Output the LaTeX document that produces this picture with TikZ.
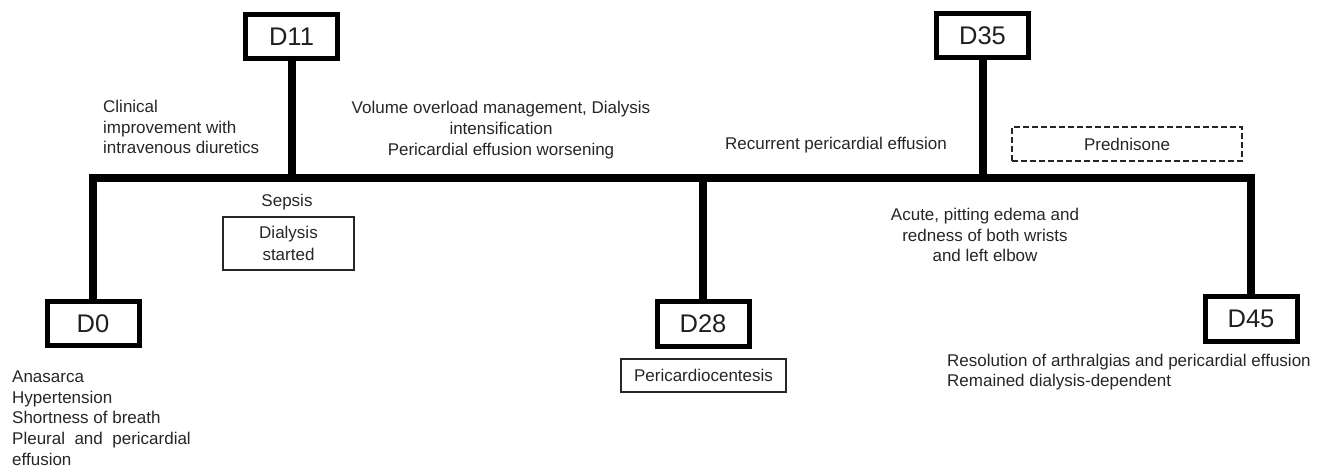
\documentclass[tikz,border=0pt]{standalone}
\usepackage{fontspec}
\setmainfont{Liberation Sans}
\begin{document}
\begin{tikzpicture}[x=1pt,y=-1pt,
  daybox/.style={draw=black,line width=5pt,minimum width=92pt,minimum height=44pt,inner sep=0pt,font=\fontsize{25.5}{28}\selectfont,text=black!88},
  thinbox/.style={draw=black!85,line width=1.3pt,inner sep=0pt,font=\fontsize{17}{21.5}\selectfont,text=black!85,align=center},
  txt/.style={inner sep=0pt,font=\fontsize{17}{20.7}\selectfont,text=black!85},
  tl/.style={line width=8.5pt,line join=miter,black}]
\useasboundingbox (0,0) rectangle (1325,470);
% day boxes
\node[daybox] (D0) at (93,323.5) {D0};
\node[daybox] (D11) at (291.5,37) {D11};
\node[daybox] (D28) at (703,324) {D28};
\node[daybox] (D35) at (982.5,36) {D35};
\node[daybox] (D45) at (1251,319) {D45};
\coordinate (tlL) at (93,178);
\coordinate (tlR) at (1251,178);
% timeline
\draw[tl] (D0.north) -- (tlL) -- (tlR) -- (D45.north);
\draw[tl,line width=8pt] (D11.south) -- (D11.south |- tlL);
\draw[tl,line width=8pt] (D28.north) -- (D28.north |- tlL);
\draw[tl,line width=8pt] (D35.south) -- (D35.south |- tlL);
% texts
\node[txt,anchor=west,align=left] (t0) at (103,127) {Clinical\\improvement with\\intravenous diuretics};
\node[txt] (sep) at (287,202) {Sepsis};
\node[thinbox,minimum width=131pt,minimum height=53pt] (dial) at (288.5,243.5) {Dialysis\\started};
\node[txt,align=center] (vol) at (501,130) {Volume overload management, Dialysis\\intensification\\Pericardial effusion worsening};
\node[thinbox,minimum width=165pt,minimum height=33pt] (peri) at (703.5,375.5) {Pericardiocentesis};
\node[txt] (rec) at (836,145) {Recurrent pericardial effusion};
\node[thinbox,dash pattern=on 6pt off 3pt,minimum width=230pt,minimum height=34pt] (pred) at (1127,144) {Prednisone};
\node[txt,align=center] (acu) at (985,235) {Acute, pitting edema and\\redness of both wrists\\and left elbow};
\node[txt,anchor=west,align=left] (res) at (947,372) {Resolution of arthralgias and pericardial effusion\\Remained dialysis-dependent};
\node[txt,anchor=west,align=left] (ana) at (12,418) {Anasarca\\Hypertension\\Shortness of breath\\Pleural~ and~ pericardial\\effusion};
\end{tikzpicture}
\end{document}
